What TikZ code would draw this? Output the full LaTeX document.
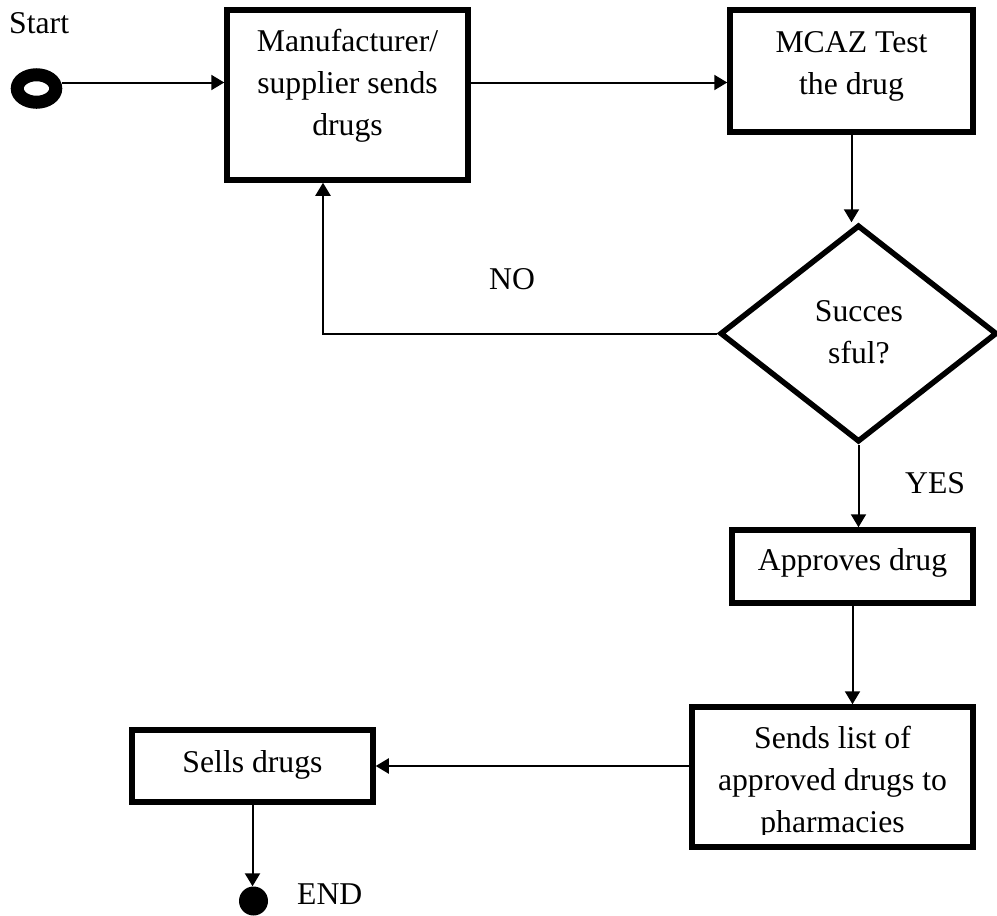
\documentclass[tikz,border=0pt]{standalone}
\usepackage{fontspec}
\setmainfont{Liberation Serif}
\usetikzlibrary{arrows.meta,shapes.geometric}
\begin{document}
\begin{tikzpicture}[x=1pt,y=-1pt,
  stepbox/.style={draw, line width=5.5pt, inner sep=0pt},
  decision/.style={diamond, draw, line width=5.5pt, inner sep=0pt},
  txt/.style={align=center, inner sep=0pt, font=\fontsize{31.7}{42}\selectfont},
  tag/.style={inner sep=0pt, anchor=base west, font=\fontsize{31.7}{42}\selectfont},
  conn/.style={line width=2pt, -{Triangle[length=13pt,width=15pt]}},
  wire/.style={line width=2pt}
]
% page frame
\useasboundingbox (0,0) rectangle (997,916);
\fill[white] (0,0) rectangle (997,916);

% start and end markers
\node[ellipse, draw, line width=13pt, minimum width=38.5pt, minimum height=27.5pt, inner sep=0pt] (start) at (36.5,88.5) {};
\node[circle, fill=black, minimum size=29pt, inner sep=0pt] (finish) at (253.5,901) {};

% process boxes
\node[stepbox, minimum width=241pt, minimum height=170pt] (mfr) at (347.5,95) {};
\node[stepbox, minimum width=243pt, minimum height=122pt] (test) at (851.5,71) {};
\node[decision, minimum width=277pt, minimum height=217pt] (dec) at (858.5,333.5) {};
\node[stepbox, minimum width=241pt, minimum height=73pt] (approve) at (852.5,566.5) {};
\node[stepbox, minimum width=281pt, minimum height=140pt] (sends) at (832.5,777) {};
\node[stepbox, minimum width=241pt, minimum height=72pt] (sells) at (252.5,766) {};

% box texts
\node[txt] (mfrText) at (347.5,85.7) {Manufacturer/\\supplier sends\\drugs};
\node[txt] (testText) at (851.5,66) {MCAZ Test\\the drug};
\node[txt] (decText) at (859,332.5) {Succes\\sful?};
\node[txt] (approveText) at (852.5,562.8) {Approves drug};
\begin{scope}
  \clip (700,715) rectangle (965,834);
  \node[txt] (sendsText) at (832.5,782.8) {Sends list of\\approved drugs to\\pharmacies};
\end{scope}
\node[txt] (sellsText) at (252.5,764.8) {Sells drugs};

% free labels
\node[tag] (startLabel) at (9,33) {Start};
\node[tag] (noLabel) at (489,289) {NO};
\node[tag] (yesLabel) at (905,493) {YES};
\node[tag] (endLabel) at (297,904) {END};

% routing helpers
\coordinate (rowA) at (0,82.5);
\coordinate (backX) at (323,0);

% connectors
\draw[conn] (start.east |- rowA) -- (mfr.west |- rowA);
\draw[conn] (mfr.east |- rowA) -- (test.west |- rowA);
\draw[conn] (test.south) -- (test.south |- dec.north);
\draw[conn] (dec.west) -- (dec.west -| backX) -- (backX |- mfr.south);
\draw[conn] (dec.south) -- (dec.south |- approve.north);
\draw[conn] (approve.south) -- (approve.south |- sends.north);
\draw[conn] (sends.west |- sells.east) -- (sells.east);
\draw[conn] (sells.south) -- (sells.south |- finish.north);
\end{tikzpicture}
\end{document}
